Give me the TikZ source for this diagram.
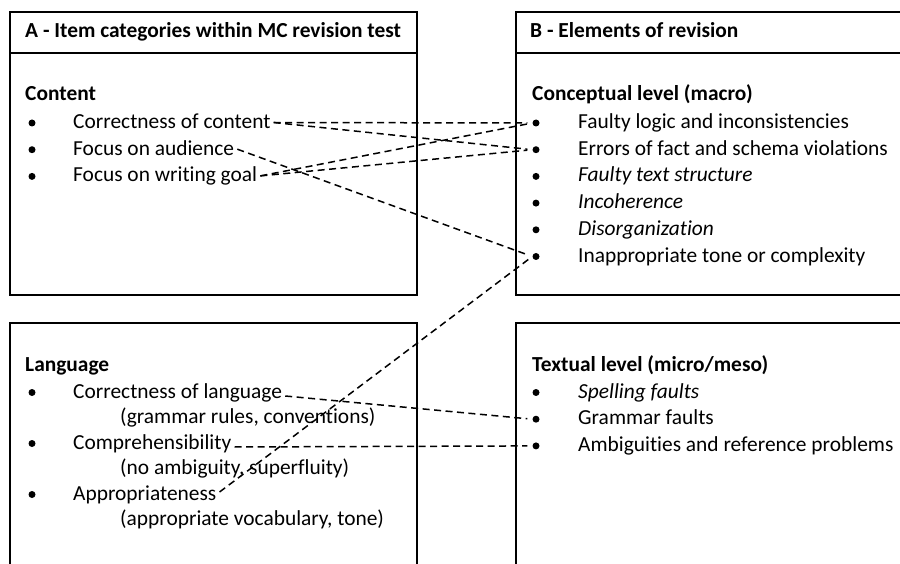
\documentclass[tikz,border=0pt]{standalone}
\usepackage{fontspec}
\setmainfont{Carlito}[Ligatures=NoCommon]
\newcommand\basefont{\fontsize{21.4}{25}\selectfont}

\tikzset{
    box/.style   = {draw=black, line width=2pt},
    head/.style  = {anchor=base west, inner sep=0pt, font=\basefont\bfseries},
    item/.style  = {anchor=base west, inner sep=3pt, text height=12pt, text depth=0pt, font=\basefont},
    bul/.style   = {circle, fill=black, inner sep=0pt, minimum size=7pt},
    link/.style  = {dash pattern=on 7pt off 4.5pt, line width=1.5pt, shorten >=5pt},
}

\begin{document}
\begin{tikzpicture}[x=1pt, y=-1pt]
    \useasboundingbox (0,0) rectangle (900,564);
    \clip (0,0) rectangle (900,564);

    \def \d {26.7}
    \def \bl {32}
    \def \br {536}

    % Frames
    \draw[box] (10,12) rectangle (417,295);
    \draw[box] (10,53) -- (417,53);
    \draw[box] (516,12) rectangle (930,295);
    \draw[box] (516,53) -- (930,53);
    \draw[box] (10,323) rectangle (417,600);
    \draw[box] (516,323) rectangle (930,600);

    \node[head] (headA) at (25,38)  {A - Item categories within MC revision test};
    \node[head] (headB) at (530,38) {B - Elements of revision};

    % Content
    \node[head] (content) at (25,101) {Content};
    \foreach \t [count=\i] in {Correctness of content, Focus on audience, Focus on writing goal}
    {
        \node[bul] (cb\i) at (\bl, {128.5+\d*(\i-1)-5.5}) {};
        \node[item] (c\i) at (70, {128.5+\d*(\i-1)}) {\t};
    }

    % Language
    \node[head] (language) at (25,371) {Language};
    \foreach \t/\s [count=\i] in {Correctness of language/{(grammar rules, conventions)},
                                  Comprehensibility/{(no ambiguity, superfluity)},
                                  Appropriateness/{(appropriate vocabulary, tone)}}
    {
        \node[bul] (lb\i) at (\bl, {398+51*(\i-1)-5.5}) {};
        \node[item] (l\i) at (70, {398+51*(\i-1)}) {\t};
        \node[item] (ls\i) at (117, {423+51*(\i-1)}) {\s};
    }

    % Conceptual level
    \node[head] (concept) at (532,101) {Conceptual level (macro)};
    \foreach \t [count=\i] in {Faulty logic and inconsistencies, Errors of fact and schema violations,
                               {\itshape Faulty text structure}, {\itshape Incoherence},
                               {\itshape Disorganization}, Inappropriate tone or complexity}
    {
        \node[bul] (k\i) at (\br, {128.5+\d*(\i-1)-5.5}) {};
        \node[item] (kt\i) at (575, {128.5+\d*(\i-1)}) {\t};
    }

    % Textual level
    \node[head] (textual) at (532,371) {Textual level (micro/meso)};
    \foreach \t [count=\i] in {{\itshape Spelling faults}, Grammar faults, Ambiguities and reference problems}
    {
        \node[bul] (t\i) at (\br, {398+\d*(\i-1)-5.5}) {};
        \node[item] (tt\i) at (575, {398+\d*(\i-1)}) {\t};
    }

    % Links
    \draw[link] (c1.east) -- (k1.west);
    \draw[link] (c1.east) -- (k2.west);
    \draw[link] (c3.east) -- (k1.west);
    \draw[link] (c3.east) -- (k2.west);
    \draw[link] (c2.east) -- (k6.west);
    \draw[link] ([yshift=-4pt]l1.east) -- (t2.west);
    \draw[link] ([yshift=-4pt]l2.east) -- (t3.west);
    \draw[link] ([yshift=2pt]l3.east) -- (k6.west);

\end{tikzpicture}
\end{document}
